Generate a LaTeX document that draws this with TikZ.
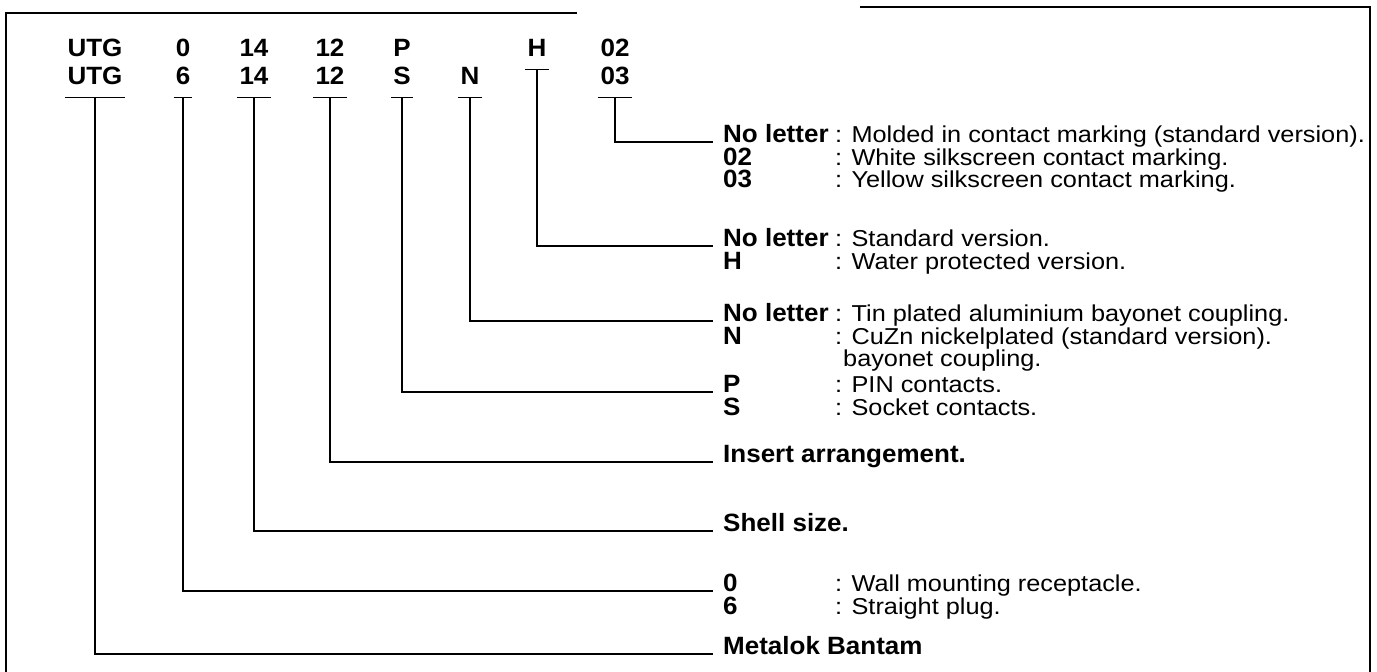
\documentclass[tikz,border=0pt]{standalone}
\usepackage{fontspec}
\setmainfont{Liberation Sans}[UprightFeatures={FakeStretch=1.1}, BoldFeatures={FakeStretch=1.04}]
\usepackage{tikz}

\begin{document}
\begin{tikzpicture}[x=1pt, y=-1pt,
code_style/.style={anchor=base, inner xsep=2pt, inner ysep=0pt, text depth=13pt, font=\fontsize{25}{30}\selectfont\bfseries},
key_style/.style={anchor=base west, inner xsep=10pt, inner ysep=0pt, text height=18pt, text depth=0pt, font=\fontsize{25}{30}\selectfont\bfseries},
text_style/.style={anchor=base west, inner sep=0pt, font=\fontsize{23}{27}\selectfont},
edge_style/.style={draw=black, line width=1.3pt},
frame_style/.style={draw=black, line width=1.6pt}]
\useasboundingbox (0,0) rectangle (1377,672);

% frame
\draw[frame_style] (6,672) -- (6,13) -- (577,13);
\draw[frame_style] (860,7) -- (1370,7) -- (1370,672);

% first code line
\node[code_style] (utga) at (95,56) {UTG};
\node[code_style] (zero) at (183,56) {0};
\node[code_style] (sza) at (254,56) {14};
\node[code_style] (ina) at (330,56) {12};
\node[code_style] (pin) at (402,56) {P};
\node[code_style] (hwp) at (537,56) {H};
\node[code_style] (mka) at (615,56) {02};

% second code line
\node[code_style] (utgb) at (95,84) {UTG};
\node[code_style] (six) at (183,84) {6};
\node[code_style] (szb) at (254,84) {14};
\node[code_style] (inb) at (330,84) {12};
\node[code_style] (soc) at (402,84) {S};
\node[code_style] (nck) at (470,84) {N};
\node[code_style] (mkb) at (615,84) {03};

% ticks under the codes
\draw[edge_style] (utgb.south west) -- (utgb.south east);
\draw[edge_style] (six.south west) -- (six.south east);
\draw[edge_style] (szb.south west) -- (szb.south east);
\draw[edge_style] (inb.south west) -- (inb.south east);
\draw[edge_style] (soc.south west) -- (soc.south east);
\draw[edge_style] (nck.south west) -- (nck.south east);
\draw[edge_style] (hwp.south west) -- (hwp.south east);
\draw[edge_style] (mkb.south west) -- (mkb.south east);

% keys and meanings
\node[key_style] (kmk) at (713,142) {No letter};
\node[text_style] at (835,142) {: Molded in contact marking (standard version).};
\node[key_style] at (713,165) {02};
\node[text_style] at (835,165) {: White silkscreen contact marking.};
\node[key_style] at (713,187) {03};
\node[text_style] at (835,187) {: Yellow silkscreen contact marking.};

\node[key_style] (khw) at (713,246) {No letter};
\node[text_style] at (835,246) {: Standard version.};
\node[key_style] at (713,269) {H};
\node[text_style] at (835,269) {: Water protected version.};

\node[key_style] (knk) at (713,321) {No letter};
\node[text_style] at (835,321) {: Tin plated aluminium bayonet coupling.};
\node[key_style] at (713,344) {N};
\node[text_style] at (835,344) {: CuZn nickelplated (standard version).};
\node[text_style] at (843,366) {bayonet coupling.};

\node[key_style] (kps) at (713,392) {P};
\node[text_style] at (835,392) {: PIN contacts.};
\node[key_style] at (713,415) {S};
\node[text_style] at (835,415) {: Socket contacts.};

\node[key_style] (kin) at (713,462) {Insert arrangement.};
\node[key_style] (ksz) at (713,531) {Shell size.};

\node[key_style] (kty) at (713,591) {0};
\node[text_style] at (835,591) {: Wall mounting receptacle.};
\node[key_style] at (713,614) {6};
\node[text_style] at (835,614) {: Straight plug.};

\node[key_style] (kbt) at (713,654) {Metalok Bantam};

% connectors
\draw[edge_style] (mkb.south) |- (kmk.base west);
\draw[edge_style] (hwp.south) |- (khw.base west);
\draw[edge_style] (nck.south) |- (knk.base west);
\draw[edge_style] (soc.south) |- (kps.base west);
\draw[edge_style] (inb.south) |- (kin.base west);
\draw[edge_style] (szb.south) |- (ksz.base west);
\draw[edge_style] (six.south) |- (kty.base west);
\draw[edge_style] (utgb.south) |- (kbt.base west);

\end{tikzpicture}
\end{document}
